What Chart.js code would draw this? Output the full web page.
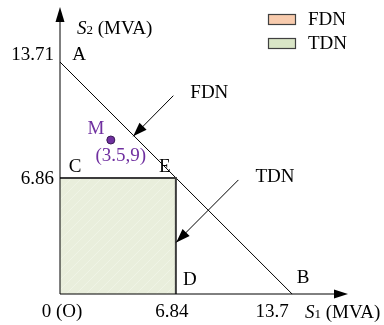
<!DOCTYPE html>
<html>
<head>
<meta charset="utf-8">
<script src="https://cdn.jsdelivr.net/npm/chart.js@4.4.1/dist/chart.umd.min.js"></script>
<style>
  html, body { margin: 0; padding: 0; background: #fff; }
  #wrap { width: 384px; height: 325px; position: relative; }
</style>
</head>
<body>
<div id="wrap"><canvas id="chartRegion"></canvas></div>
<script>
// Données
const fdnS1 = [0, 13.7];            // frontière FDN (A -> B)
const fdnS2 = [13.71, 0];
const tdnS1 = [0, 6.84, 6.84];      // frontière TDN (C -> E -> D)
const tdnS2 = [6.86, 6.86, 0];
const pointMS1 = [3.0];
const pointMS2 = [9.1];
const pointMLabel = '(3.5,9)';

const xTickValues = [0, 6.84, 13.7];
const xTickLabels = ['0 (O)', '6.84', '13.7'];
const yTickValues = [13.71, 6.86];
const yTickLabels = ['13.71', '6.86'];

const vertexNames = ['A', 'C', 'E', 'D', 'B'];
const vertexS1 = [0, 0, 6.84, 6.84, 13.7];
const vertexS2 = [13.71, 6.86, 6.86, 0, 0];

// flèches d'annotation : départ -> pointe (coordonnées S1, S2)
const arrowNames = ['FDN', 'TDN'];
const arrowFromS1 = [6.69, 10.53];
const arrowFromS2 = [11.72, 6.74];
const arrowToS1 = [4.32, 6.86];
const arrowToS2 = [9.32, 3.05];

const legendNames = ['FDN', 'TDN'];

const FONT = '"Liberation Serif", "Times New Roman", serif';
const PURPLE = '#7030a0';

// motif hachuré très léger pour la zone TDN
function makeHatch() {
    const c = document.createElement('canvas');
    c.width = 10; c.height = 10;
    const g = c.getContext('2d');
    g.fillStyle = '#e9eedc';
    g.fillRect(0, 0, 10, 10);
    g.strokeStyle = 'rgba(255,255,255,0.3)';
    g.lineWidth = 1;
    g.beginPath();
    g.moveTo(0, 10); g.lineTo(10, 0);
    g.moveTo(-5, 5); g.lineTo(5, -5);
    g.moveTo(5, 15); g.lineTo(15, 5);
    g.stroke();
    return g.createPattern(c, 'repeat');
}

function arrowHead(ctx, x0, y0, x1, y1, len, half) {
    const a = Math.atan2(y1 - y0, x1 - x0);
    ctx.beginPath();
    ctx.moveTo(x1, y1);
    ctx.lineTo(x1 - len * Math.cos(a) + half * Math.sin(a), y1 - len * Math.sin(a) - half * Math.cos(a));
    ctx.lineTo(x1 - len * Math.cos(a) - half * Math.sin(a), y1 - len * Math.sin(a) + half * Math.cos(a));
    ctx.closePath();
    ctx.fill();
}

function subText(ctx, x, y, main, sub, rest) {
    // S italique + indice + reste
    ctx.textAlign = 'left';
    ctx.textBaseline = 'alphabetic';
    ctx.font = 'italic 19px ' + FONT;
    ctx.fillText(main, x, y);
    x += ctx.measureText(main).width;
    ctx.font = '13px ' + FONT;
    ctx.fillText(sub, x, y);
    x += ctx.measureText(sub).width;
    ctx.font = '19px ' + FONT;
    ctx.fillText(rest, x, y);
}

const decorPlugin = {
    id: 'decor',
    afterDatasetsDraw(chart) {
        const ctx = chart.ctx;
        const xs = chart.scales.x, ys = chart.scales.y;
        const area = chart.chartArea;
        const ox = xs.getPixelForValue(0), oy = ys.getPixelForValue(0);
        ctx.save();
        ctx.strokeStyle = '#000';
        ctx.fillStyle = '#000';
        ctx.lineWidth = 1;

        // axes avec flèches
        ctx.beginPath();
        ctx.moveTo(ox, oy); ctx.lineTo(area.right - 4, oy);
        ctx.moveTo(ox, oy); ctx.lineTo(ox, area.top + 4);
        ctx.stroke();
        arrowHead(ctx, ox, oy, area.right, oy, 14, 4.5);
        arrowHead(ctx, ox, oy, ox, area.top, 15, 4.5);

        // flèches d'annotation
        ctx.lineWidth = 1;
        arrowNames.forEach((name, i) => {
            const x0 = xs.getPixelForValue(arrowFromS1[i]), y0 = ys.getPixelForValue(arrowFromS2[i]);
            const x1 = xs.getPixelForValue(arrowToS1[i]), y1 = ys.getPixelForValue(arrowToS2[i]);
            ctx.beginPath();
            ctx.moveTo(x0, y0); ctx.lineTo(x1, y1);
            ctx.stroke();
            arrowHead(ctx, x0, y0, x1, y1, 14, 5);
            ctx.font = '19px ' + FONT;
            ctx.textAlign = 'left';
            ctx.textBaseline = 'middle';
            ctx.fillText(name, x0 + 17, y0 - 3);
        });

        // graduations
        ctx.font = '19px ' + FONT;
        ctx.textBaseline = 'middle';
        ctx.textAlign = 'center';
        const xOffsets = [2, -4, -20];
        xTickValues.forEach((v, i) => {
            ctx.fillText(xTickLabels[i], xs.getPixelForValue(v) + xOffsets[i], oy + 18);
        });
        ctx.textAlign = 'right';
        const yOffsets = [-7, 1];
        yTickValues.forEach((v, i) => {
            ctx.fillText(yTickLabels[i], ox - 6, ys.getPixelForValue(v) + yOffsets[i]);
        });

        // titres des axes
        subText(ctx, 305, 318, 'S', '1', ' (MVA)');
        subText(ctx, 77, 34, 'S', '2', ' (MVA)');

        // sommets
        ctx.font = '19px ' + FONT;
        ctx.textAlign = 'center';
        ctx.textBaseline = 'middle';
        const vOffsets = [[19, -7], [15, -11], [-11, -11], [14, -14], [11, -16]];
        vertexNames.forEach((n, i) => {
            ctx.fillText(n, xs.getPixelForValue(vertexS1[i]) + vOffsets[i][0],
                ys.getPixelForValue(vertexS2[i]) + vOffsets[i][1]);
        });

        // point M
        const mx = xs.getPixelForValue(pointMS1[0]), my = ys.getPixelForValue(pointMS2[0]);
        ctx.fillStyle = PURPLE;
        ctx.fillText('M', mx - 15, my - 11);
        ctx.fillText(pointMLabel, mx + 10, my + 16);

        // légende
        const boxColors = ['#f8cbad', '#d9e5c6'];
        legendNames.forEach((n, i) => {
            const y = 14 + i * 24;
            ctx.fillStyle = boxColors[i];
            ctx.fillRect(268, y, 28, 11);
            ctx.strokeStyle = '#404040';
            ctx.lineWidth = 1.2;
            ctx.strokeRect(268.5, y + 0.5, 27, 10);
            ctx.fillStyle = '#000';
            ctx.textAlign = 'left';
            ctx.fillText(n, 308, y + 6);
        });
        ctx.restore();
    }
};

const canvas = document.getElementById('chartRegion');

new Chart(canvas, {
    type: 'scatter',
    data: {
        datasets: [
            {
                label: 'TDN',
                data: tdnS1.map((x, i) => ({ x, y: tdnS2[i] })),
                showLine: true,
                fill: 'origin',
                backgroundColor: makeHatch(),
                borderColor: '#3c3c3c',
                borderWidth: 2,
                pointRadius: 0,
                tension: 0,
                clip: false
            },
            {
                label: 'FDN',
                data: fdnS1.map((x, i) => ({ x, y: fdnS2[i] })),
                showLine: true,
                fill: false,
                borderColor: '#000',
                borderWidth: 1,
                pointRadius: 0,
                clip: false
            },
            {
                label: 'M',
                data: pointMS1.map((x, i) => ({ x, y: pointMS2[i] })),
                showLine: false,
                pointRadius: 4,
                backgroundColor: PURPLE,
                borderColor: '#3a1a55',
                borderWidth: 1,
                clip: false
            }
        ]
    },
    options: {
        responsive: true,
        maintainAspectRatio: false,
        animation: false,
        layout: { padding: { left: 60, right: 36, top: 7, bottom: 31 } },
        plugins: {
            legend: { display: false },
            tooltip: { enabled: false }
        },
        scales: {
            x: { type: 'linear', min: 0, max: 17, display: false },
            y: { type: 'linear', min: 0, max: 16.96, display: false }
        }
    },
    plugins: [decorPlugin]
});
</script>
</body>
</html>
